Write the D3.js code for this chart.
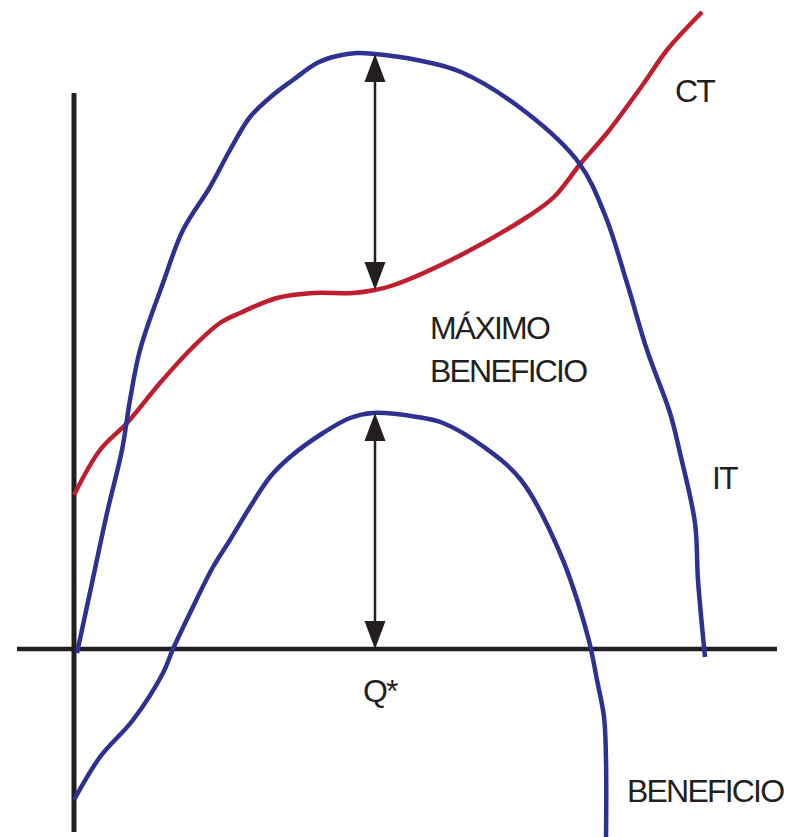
<!DOCTYPE html>
<html>
  <head>
    <script src="https://cdn.jsdelivr.net/npm/d3@7/dist/d3.min.js" charset="utf-8"></script>
    <style>
      body { margin: 0; background: #fff; }
      text { font-family: "Liberation Sans", Arial, sans-serif; fill: #231f20; }
    </style>
  </head>
  <body>
    <svg id="chart" width="794" height="837"></svg>
    <script>
      // curva de ingreso total (IT), costo total (CT) y beneficio, en unidades del grafico
      var itData = [[3, -4], [18, 66], [33, 136], [48, 199], [56, 249], [66, 299], [89, 366],
        [109, 419], [136, 462], [156, 499], [176, 532], [199, 554], [219, 569], [243, 586],
        [263, 593], [283, 596], [301, 595], [343, 589], [387, 577], [453, 536], [505, 486],
        [531, 434], [553, 366], [573, 299], [596, 236], [606, 196], [621, 126], [624, 69],
        [631, -8]];

      var ctData = [[0, 154], [26, 199], [53, 226], [86, 266], [119, 302], [146, 326],
        [166, 336], [203, 351], [239, 356], [279, 356], [301, 359], [320, 364], [387, 394],
        [453, 432], [480, 452], [507, 486], [533, 516], [570, 566], [593, 599], [628, 637]];

      var benData = [[0, -151], [26, -108], [59, -71], [89, -24], [99, 0], [116, 36],
        [139, 82], [156, 109], [176, 142], [196, 172], [216, 192], [249, 216], [276, 231],
        [299, 236], [343, 232], [369, 226], [410, 202], [447, 169], [486, 96], [514, 12],
        [523, -31], [530, -68], [532, -111], [532, -191]];

      var qStar = 301;
      var maxIT = 595, ctAtQ = 359, maxBen = 236;

      var svg = d3.select("#chart");
      var sx = d3.scaleLinear().domain([0, 700]).range([74, 774]);
      var sy = d3.scaleLinear().domain([0, 600]).range([649, 49]);

      var blue = "#2e3192", red = "#be1e2d", ink = "#231f20";

      // ejes
      svg.append("line")
        .attr("x1", sx(0)).attr("x2", sx(0))
        .attr("y1", sy(556)).attr("y2", sy(-183))
        .attr("stroke", ink).attr("stroke-width", 5);
      svg.append("line")
        .attr("x1", sx(-57)).attr("x2", sx(703))
        .attr("y1", sy(0)).attr("y2", sy(0))
        .attr("stroke", ink).attr("stroke-width", 4.5);

      var lineMaker = d3.line()
        .x(d => sx(d[0])).y(d => sy(d[1]))
        .curve(d3.curveCatmullRom.alpha(0.5));

      svg.append("path").attr("d", lineMaker(ctData))
        .attr("fill", "none").attr("stroke", red).attr("stroke-width", 4.5);
      svg.append("path").attr("d", lineMaker(itData))
        .attr("fill", "none").attr("stroke", blue).attr("stroke-width", 4.5);
      svg.append("path").attr("d", lineMaker(benData))
        .attr("fill", "none").attr("stroke", blue).attr("stroke-width", 4.5);

      // flechas dobles en Q*
      function dblArrow(y0, y1) {
        var x = sx(qStar), top = sy(y0), bot = sy(y1);
        var w = 10.5, h = 28;
        var g = svg.append("g");
        g.append("line").attr("x1", x).attr("x2", x)
          .attr("y1", top + h - 2).attr("y2", bot - h + 2)
          .attr("stroke", ink).attr("stroke-width", 2.5);
        g.append("path")
          .attr("d", `M${x} ${top} L${x + w} ${top + h} L${x - w} ${top + h} Z`)
          .attr("fill", ink);
        g.append("path")
          .attr("d", `M${x} ${bot} L${x + w} ${bot - h} L${x - w} ${bot - h} Z`)
          .attr("fill", ink);
      }
      dblArrow(maxIT, ctAtQ);
      dblArrow(maxBen, 0);

      // textos
      var labels = [
        {t: "CT", x: 675, y: 102},
        {t: "MÁXIMO", x: 430, y: 339},
        {t: "BENEFICIO", x: 430, y: 382},
        {t: "IT", x: 712, y: 489},
        {t: "Q*", x: 363, y: 702},
        {t: "BENEFICIO", x: 627, y: 802}
      ];
      svg.selectAll("text.lbl").data(labels).enter().append("text")
        .attr("class", "lbl")
        .attr("x", d => d.x).attr("y", d => d.y)
        .attr("font-size", 32)
        .attr("letter-spacing", "-1.8px")
        .text(d => d.t);
    </script>
  </body>
</html>
